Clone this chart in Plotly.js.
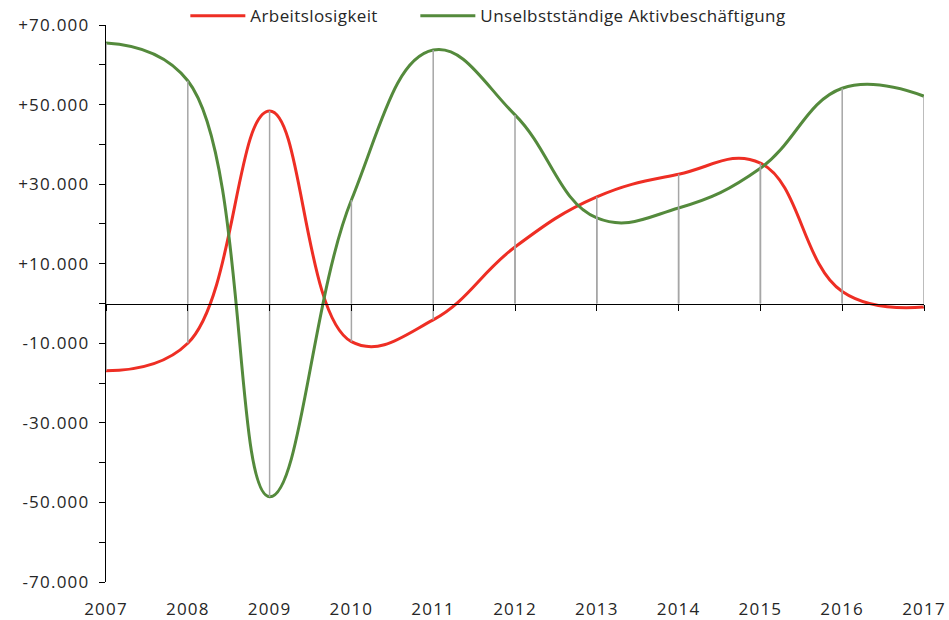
<!DOCTYPE html>
<html>
<head>
<meta charset="utf-8">
<script src="https://cdn.plot.ly/plotly-3.0.1.min.js"></script>
<style>
html,body{margin:0;padding:0;background:#fff;}
#chart{width:949px;height:620px;}
#chart .ytick text, #chart .xtick text {letter-spacing:1.2px;}
#chart .legendtext {letter-spacing:0.4px;}
</style>
</head>
<body>
<div id="chart"></div>
<script>
const years = [2007, 2008, 2009, 2010, 2011, 2012, 2013, 2014, 2015, 2016, 2017];
const arbeitslosigkeit = [-16900, -10000, 48400, -9600, -4100, 14200, 26800, 32500, 35300, 3000, -900];
const aktivbeschaeftigung = [65500, 56000, -48600, 26000, 63700, 47400, 21500, 24000, 34000, 54100, 52100];
const seriesNames = ["Arbeitslosigkeit", "Unselbstständige Aktivbeschäftigung"];
const yTickVals = [-70000, -60000, -50000, -40000, -30000, -20000, -10000, 0, 10000, 20000, 30000, 40000, 50000, 60000, 70000];
const yTickText = ["-70.000", "", "-50.000", "", "-30.000", "", "-10.000", "", "+10.000", "", "+30.000", "", "+50.000", "", "+70.000"];
const xTickText = ["2007", "2008", "2009", "2010", "2011", "2012", "2013", "2014", "2015", "2016", "2017"];

// drop lines from each series point to the category axis (value 0)
const dropX = [], dropY = [];
years.forEach((yr, i) => {
  dropX.push(yr, yr, null, yr, yr, null);
  dropY.push(0, arbeitslosigkeit[i], null, 0, aktivbeschaeftigung[i], null);
});

const traces = [
  {x: dropX, y: dropY, xaxis: 'x2', mode: 'lines', line: {color: '#a6a6a6', width: 1.5}, showlegend: false, hoverinfo: 'skip'},
  {x: years, y: arbeitslosigkeit, name: seriesNames[0], mode: 'lines', legendwidth: 160,
    line: {color: '#ee2e24', width: 3, shape: 'spline', smoothing: 1.2}},
  {x: years, y: aktivbeschaeftigung, name: seriesNames[1], mode: 'lines', legendwidth: 330,
    line: {color: '#548a3c', width: 3, shape: 'spline', smoothing: 1.2}}
];

const fontFam = '"Open Sans", Lato, sans-serif';
const layout = {
  width: 949, height: 620,
  margin: {l: 106, r: 25, t: 25, b: 38, pad: 0, autoexpand: false},
  paper_bgcolor: '#ffffff', plot_bgcolor: '#ffffff',
  font: {family: fontFam, color: '#262626', size: 17},
  hovermode: false,
  showlegend: true,
  legend: {orientation: 'h', x: 0.097, xanchor: 'left', y: 1.016, yanchor: 'middle',
    font: {size: 17, color: '#262626'}, bgcolor: 'rgba(0,0,0,0)', traceorder: 'normal', itemwidth: 55},
  xaxis: {range: [2007, 2017], tickmode: 'array', tickvals: years, ticktext: xTickText,
    showgrid: false, zeroline: false, showline: false, ticks: '', ticklabelstandoff: 15,
    tickfont: {size: 17, color: '#262626'}},
  xaxis2: {range: [2007, 2017], overlaying: 'x', anchor: 'free', position: 0.5, side: 'bottom',
    tickmode: 'array', tickvals: years, showticklabels: false, ticks: 'outside', ticklen: 6, tickcolor: '#000', tickwidth: 1,
    showline: true, linecolor: '#000', linewidth: 1.2, showgrid: false, zeroline: false},
  yaxis: {range: [-70000, 70000], tickmode: 'array', tickvals: yTickVals, ticktext: yTickText,
    showgrid: false, zeroline: false, showline: true, linecolor: '#000', linewidth: 1.2,
    ticks: 'outside', ticklen: 6, tickcolor: '#000', tickwidth: 1, ticklabelstandoff: 6,
    tickfont: {size: 17, color: '#262626'}}
};

Plotly.newPlot('chart', traces, layout, {staticPlot: true, displayModeBar: false});
</script>
</body>
</html>
